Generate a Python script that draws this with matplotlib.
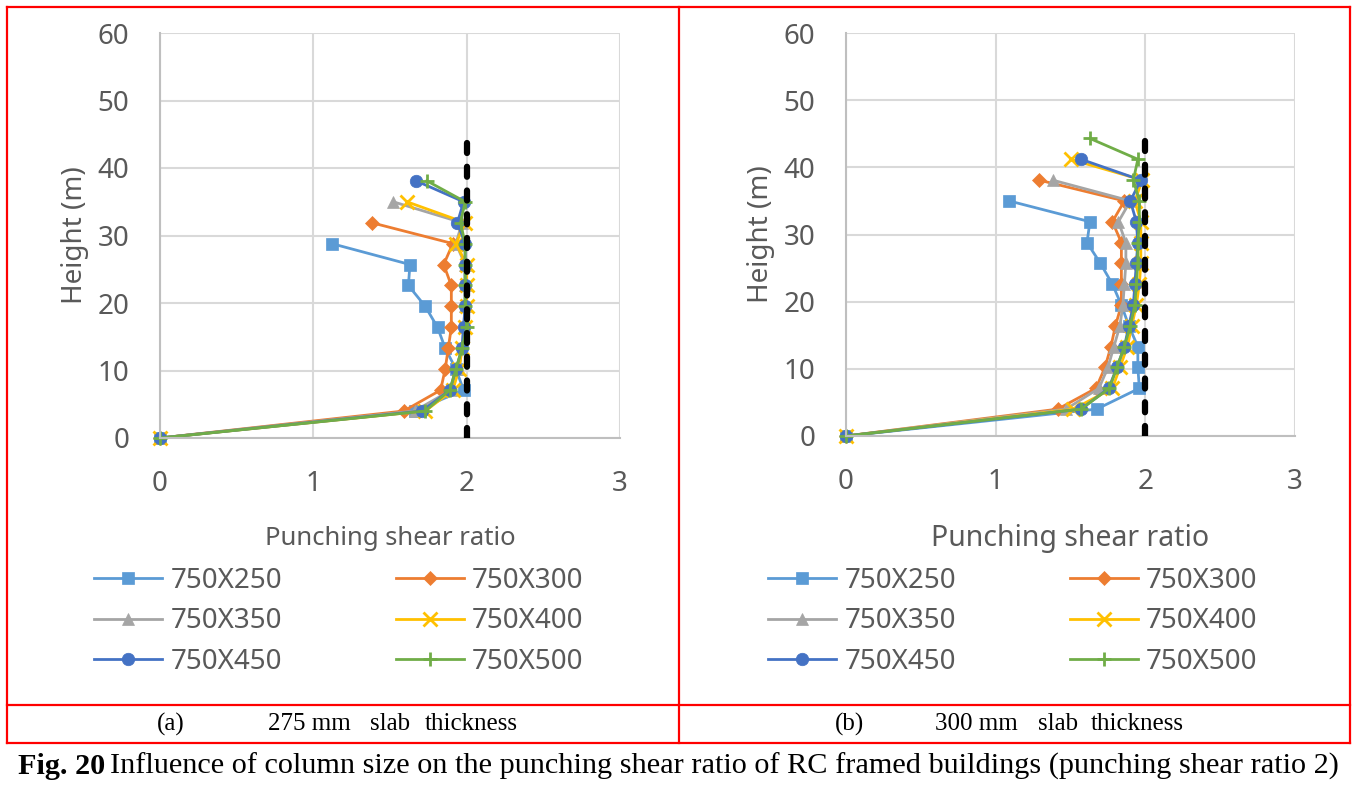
import matplotlib
matplotlib.use('Agg')
import matplotlib.pyplot as plt
from matplotlib.lines import Line2D

# storey heights (m)
heights = [0, 4, 7.1, 10.2, 13.3, 16.4, 19.5, 22.6, 25.7, 28.8, 31.9, 35, 38.1, 41.2, 44.3]

labels = ['750X250', '750X300', '750X350', '750X400', '750X450', '750X500']

# (a) 275 mm slab thickness
a_250 = [0, 1.66, 1.98, 1.93, 1.86, 1.81, 1.73, 1.62, 1.63, 1.12]
a_300 = [0, 1.59, 1.83, 1.86, 1.88, 1.90, 1.90, 1.90, 1.85, 1.91, 1.38]
a_350 = [0, 1.66, 1.90, 1.95, 1.97, 1.98, 1.99, 1.99, 1.99, 1.93, 1.97, 1.52]
a_400 = [0, 1.73, 1.91, 1.95, 1.97, 1.99, 2.00, 2.00, 2.00, 1.93, 1.99, 1.61]
a_450 = [0, 1.71, 1.89, 1.93, 1.97, 1.98, 1.99, 1.99, 1.99, 1.99, 1.94, 1.98, 1.67]
a_500 = [0, 1.73, 1.89, 1.93, 1.97, 2.00, 1.99, 1.99, 1.99, 1.99, 1.96, 1.99, 1.74]

# (b) 300 mm slab thickness
b_250 = [0, 1.675, 1.96, 1.95, 1.95, 1.89, 1.84, 1.78, 1.70, 1.61, 1.63, 1.09]
b_300 = [0, 1.415, 1.67, 1.73, 1.77, 1.80, 1.84, 1.84, 1.84, 1.84, 1.78, 1.86, 1.29]
b_350 = [0, 1.47, 1.69, 1.75, 1.79, 1.83, 1.85, 1.86, 1.87, 1.87, 1.82, 1.90, 1.38]
b_400 = [0, 1.52, 1.78, 1.83, 1.88, 1.91, 1.94, 1.96, 1.97, 1.97, 1.97, 1.93, 1.98, 1.50]
b_450 = [0, 1.57, 1.755, 1.81, 1.86, 1.89, 1.92, 1.93, 1.94, 1.95, 1.94, 1.90, 1.97, 1.57]
b_500 = [0, 1.57, 1.76, 1.81, 1.86, 1.90, 1.93, 1.94, 1.95, 1.95, 1.96, 1.96, 1.92, 1.95, 1.63]

limit_ratio = 2
limit_top = 44.5

colors = ['#5B9BD5', '#ED7D31', '#A5A5A5', '#FFC000', '#4472C4', '#70AD47']
markers = ['s', 'D', '^', 'x', 'o', '+']
msizes = [9, 7.5, 9, 9.5, 9, 10]

plt.rcParams['font.family'] = ['Noto Sans', 'DejaVu Sans']
W, H = 1357, 789
fig = plt.figure(figsize=(W / 100, H / 100), dpi=100)
fig.patch.set_facecolor('white')

def fx(x):
    return x / W

def fy(y):
    return 1 - y / H

def setup_axes(rect, xlabel_size):
    ax = fig.add_axes(rect)
    ax.set_xlim(0, 3)
    ax.set_ylim(0, 60)
    ax.set_xticks([0, 1, 2, 3])
    ax.set_yticks(range(0, 61, 10))
    ax.grid(True, color='#d9d9d9', lw=1.5)
    ax.set_axisbelow(True)
    for s in ['top', 'right']:
        ax.spines[s].set_visible(False)
    for s in ['left', 'bottom']:
        ax.spines[s].set_color('#bfbfbf')
        ax.spines[s].set_linewidth(1.5)
    ax.tick_params(length=0, labelsize=20, colors='#595959')
    ax.tick_params(axis='x', pad=23)
    ax.tick_params(axis='y', pad=22)
    ax.set_ylabel('Height (m)', fontsize=20, color='#595959', labelpad=6)
    ax.set_xlabel('Punching shear ratio', fontsize=xlabel_size, color='#595959', labelpad=20)
    return ax

panels = [
    ([a_250, a_300, a_350, a_400, a_450, a_500],
     [fx(160), fy(438), fx(620) - fx(160), fy(33) - fy(438)], 18.5, 80),
    ([b_250, b_300, b_350, b_400, b_450, b_500],
     [fx(846), fy(436), fx(1295) - fx(846), fy(33) - fy(436)], 20.5, 754),
]

for series, rect, xls, leg_x in panels:
    ax = setup_axes(rect, xls)
    handles = []
    for vals, c, m, ms, lab in zip(series, colors, markers, msizes, labels):
        h, = ax.plot(vals, heights[:len(vals)], color=c, lw=2, marker=m,
                     markersize=ms, markeredgewidth=2 if m in 'x+' else 0.5,
                     markeredgecolor=c, label=lab, clip_on=False)
        handles.append(h)
    ax.plot([limit_ratio, limit_ratio], [0, limit_top], color='black', lw=4.5,
            linestyle=(0, (1.6, 2.2)), dash_capstyle='round', zorder=10)
    order = [0, 2, 4, 1, 3, 5]
    fig.legend([handles[i] for i in order], [labels[i] for i in order],
               ncol=2, loc='upper left', bbox_to_anchor=(fx(leg_x), fy(553)),
               frameon=False, fontsize=20, handlelength=2.45, handletextpad=0.3,
               columnspacing=4.1, labelspacing=0.45, borderpad=0,
               labelcolor='#595959')

# table borders
red = '#ff0000'
for x0, y0, x1, y1 in [(7, 7, 1350, 7), (7, 705, 1350, 705), (7, 743, 1350, 743),
                       (7, 7, 7, 743), (679, 7, 679, 743), (1350, 7, 1350, 743)]:
    fig.add_artist(Line2D([fx(x0), fx(x1)], [fy(y0), fy(y1)], color=red, lw=1.6,
                          transform=fig.transFigure))

serif = ['Liberation Serif', 'DejaVu Serif']
sub_words = [(157, '(a)'), (268, '275 mm'), (370, 'slab'), (425, 'thickness'),
             (835, '(b)'), (935, '300 mm'), (1038, 'slab'), (1091, 'thickness')]
for x, w in sub_words:
    fig.text(fx(x), fy(724), w, family=serif, fontsize=18, va='center')

# caption: bold figure number then normal text
cap_size = 21.8
t1 = fig.text(fx(18), fy(766), 'Fig. 20', family=serif, fontsize=cap_size,
              fontweight='bold', va='center')
r = fig.canvas.get_renderer()
bb = t1.get_window_extent(renderer=r)
fig.text(bb.x1 / W + fx(5), fy(766),
         'Influence of column size on the punching shear ratio of RC framed buildings (punching shear ratio 2)',
         family=serif, fontsize=cap_size, va='center')

fig.savefig('out.png', dpi=100, facecolor='white')
